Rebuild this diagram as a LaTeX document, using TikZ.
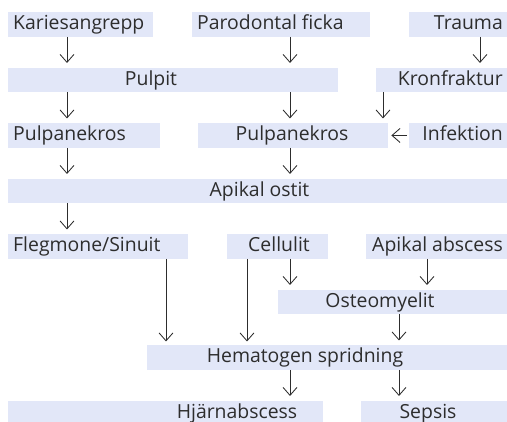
\documentclass[tikz,border=0pt]{standalone}
\usepackage{fontspec}
\setmainfont{Open Sans}
\usetikzlibrary{arrows.meta}
\definecolor{boxfill}{RGB}{226,231,248}
\definecolor{inkgray}{RGB}{45,45,45}
\tikzstyle{block} = [fill=boxfill, rectangle, anchor=north west,
    inner sep=0pt, minimum height=24.5pt]
\tikzstyle{caption} = [text=inkgray, inner sep=0pt,
    font=\fontsize{19.4}{22}\selectfont]
\tikzstyle{arr} = [->, draw=inkgray, line width=0.85pt, shorten >=4.5pt]

\begin{document}
\begin{tikzpicture}[x=1pt, y=-1pt, >={Straight Barb[length=8pt,width=14pt]}]
    \useasboundingbox (0,0) rectangle (507,422);

    % We start by placing the blocks, row by row
    \node [block, minimum width=145pt] (karies) at (8,12) {};
    \node [block, minimum width=178pt] (parodontal) at (192,12) {};
    \node [block, minimum width=106pt] (trauma) at (409,12) {};
    \node [block, minimum width=330pt] (pulpit) at (8,67.5) {};
    \node [block, minimum width=139pt] (kronfraktur) at (376,67.5) {};
    \node [block, minimum width=152pt] (nekrosL) at (8,123) {};
    \node [block, minimum width=190pt] (nekrosM) at (198,123) {};
    \node [block, minimum width=106pt] (infektion) at (409,123) {};
    \node [block, minimum width=507pt] (ostit) at (8,178.5) {};
    \node [block, minimum width=180pt] (flegmone) at (8,234) {};
    \node [block, minimum width=101pt] (cellulit) at (227,234) {};
    \node [block, minimum width=149pt] (abscess) at (366,234) {};
    \node [block, minimum width=237pt] (osteo) at (278,289.5) {};
    \node [block, minimum width=368pt] (hemato) at (147,345) {};
    \node [block, minimum width=315pt] (hjarna) at (8,400.5) {};
    \node [block, minimum width=154pt] (sepsis) at (361,400.5) {};

    % The texts sit on the baseline of each row
    \node [caption, anchor=base west] (karies-t) at (13,30) {Kariesangrepp};
    \node [caption, anchor=base west] (parodontal-t) at (197,30) {Parodontal ficka};
    \node [caption, anchor=base east] (trauma-t) at (503,30) {Trauma};
    \node [caption, anchor=base] (pulpit-t) at (151,85.5) {Pulpit};
    \node [caption, anchor=base east] (kronfraktur-t) at (503,85.5) {Kronfraktur};
    \node [caption, anchor=base west] (nekrosL-t) at (13,141) {Pulpanekros};
    \node [caption, anchor=base] (nekrosM-t) at (292,141) {Pulpanekros};
    \node [caption, anchor=base east] (infektion-t) at (503,141) {Infektion};
    \node [caption, anchor=base] (ostit-t) at (259.5,196.5) {Apikal ostit};
    \node [caption, anchor=base west] (flegmone-t) at (13,252) {Flegmone/Sinuit};
    \node [caption, anchor=base] (cellulit-t) at (279,252) {Cellulit};
    \node [caption, anchor=base east] (abscess-t) at (503,252) {Apikal abscess};
    \node [caption, anchor=base] (osteo-t) at (380,307.5) {Osteomyelit};
    \node [caption, anchor=base] (hemato-t) at (305,363) {Hematogen spridning};
    \node [caption, anchor=base] (hjarna-t) at (237,418.5) {Hjärnabscess};
    \node [caption, anchor=base] (sepsis-t) at (428,418.5) {Sepsis};

    % Once the blocks are placed, connecting them is easy.
    \draw [arr] (karies.south -| 67,0) -- (pulpit.north -| 67,0);
    \draw [arr] (parodontal.south -| 290,0) -- (pulpit.north -| 290,0);
    \draw [arr] (trauma.south -| 480,0) -- (kronfraktur.north -| 480,0);
    \draw [arr] (pulpit.south -| 67,0) -- (nekrosL.north -| 67,0);
    \draw [arr] (pulpit.south -| 290,0) -- (nekrosM.north -| 290,0);
    \draw [arr] (kronfraktur.south -| 383,0) -- (nekrosM.north -| 383,0);
    \draw [arr, shorten <=2pt, shorten >=3pt] (infektion.west) -- (nekrosM.east);
    \draw [arr] (nekrosL.south -| 67,0) -- (ostit.north -| 67,0);
    \draw [arr] (nekrosM.south -| 290,0) -- (ostit.north -| 290,0);
    \draw [arr] (ostit.south -| 67,0) -- (flegmone.north -| 67,0);
    \draw [arr] (cellulit.south -| 290,0) -- (osteo.north -| 290,0);
    \draw [arr] (abscess.south -| 427,0) -- (osteo.north -| 427,0);
    \draw [arr, shorten >=3.5pt] (flegmone.south -| 166,0) -- (hemato.north -| 166,0);
    \draw [arr, shorten >=3.5pt] (cellulit.south -| 247,0) -- (hemato.north -| 247,0);
    \draw [arr] (osteo.south -| 399,0) -- (hemato.north -| 399,0);
    \draw [arr] (hemato.south -| 290,0) -- (hjarna.north -| 290,0);
    \draw [arr] (hemato.south -| 399,0) -- (sepsis.north -| 399,0);

\end{tikzpicture}
\end{document}
